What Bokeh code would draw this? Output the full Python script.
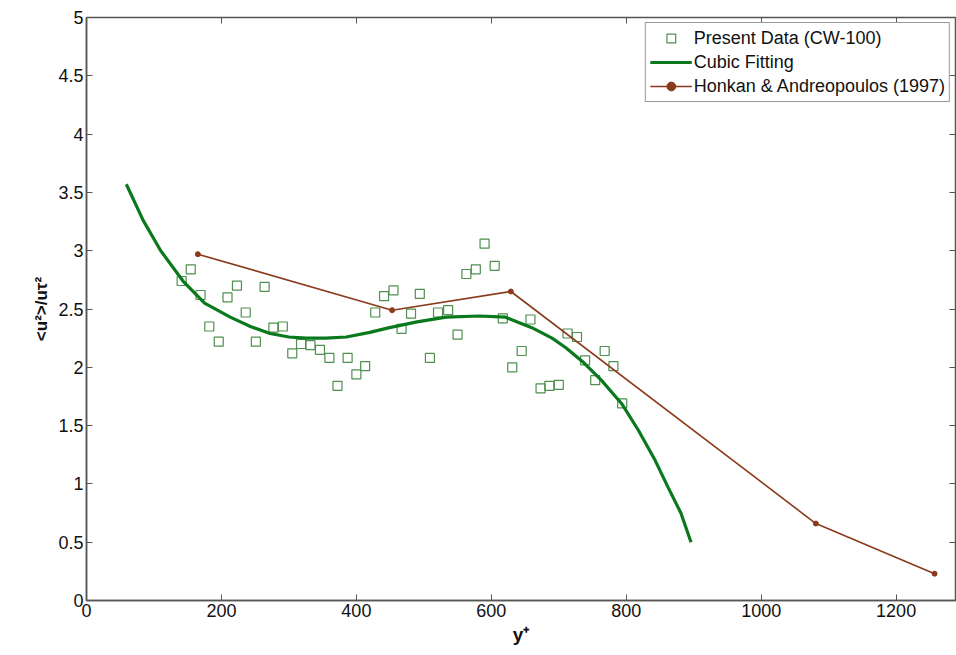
from bokeh.plotting import figure
from bokeh.models import Range1d, LinearAxis, Legend, LegendItem, FixedTicker
from bokeh.embed import file_html
from bokeh.resources import INLINE

# Present data (CW-100)
data_x = [141, 154.5, 169, 182, 196, 209, 223, 236, 251, 264, 277, 291, 305, 318, 332, 346,
          360, 372, 387, 400, 413, 428, 441, 455, 467, 481, 494, 509, 521, 536, 550, 563,
          577, 590, 605, 617, 631, 645, 658, 673, 686, 700, 713, 727, 739, 754, 768, 781, 794]
data_y = [2.74, 2.84, 2.62, 2.35, 2.22, 2.60, 2.70, 2.47, 2.22, 2.69, 2.34, 2.35, 2.12, 2.20,
          2.19, 2.15, 2.08, 1.84, 2.08, 1.94, 2.01, 2.47, 2.61, 2.66, 2.33, 2.46, 2.63, 2.08,
          2.47, 2.49, 2.28, 2.80, 2.84, 3.06, 2.87, 2.42, 2.00, 2.14, 2.41, 1.82, 1.84, 1.85,
          2.29, 2.26, 2.06, 1.89, 2.14, 2.01, 1.69]

# Cubic fitting
fit_x = [59, 84, 110, 143, 175, 213, 243, 272, 300, 326, 355, 385, 420, 449, 490, 533, 582,
         621, 660, 690, 710, 735, 763, 793, 818, 843, 862, 881, 896]
fit_y = [3.57, 3.26, 3.00, 2.74, 2.55, 2.43, 2.35, 2.29, 2.26, 2.25, 2.25, 2.26, 2.30, 2.34,
         2.39, 2.43, 2.44, 2.43, 2.34, 2.25, 2.17, 2.05, 1.89, 1.69, 1.46, 1.20, 0.97, 0.75, 0.50]

# Honkan & Andreopoulos (1997)
ha_x = [165, 453, 629, 1081, 1257]
ha_y = [2.97, 2.49, 2.65, 0.66, 0.23]

x_ticks = [0, 200, 400, 600, 800, 1000, 1200]
y_ticks = [0, 0.5, 1, 1.5, 2, 2.5, 3, 3.5, 4, 4.5, 5]

FONT = "Liberation Sans"
AX = "#555555"

p = figure(width=956, height=655, output_backend="svg", toolbar_location=None,
           x_range=Range1d(0, 1288), y_range=Range1d(0, 5),
           min_border_left=86, min_border_right=1, min_border_top=17, min_border_bottom=55,
           background_fill_color="white", border_fill_color="white")
p.outline_line_color = AX
p.outline_line_width = 1.5
p.xgrid.visible = False
p.ygrid.visible = False

sq = p.scatter(data_x, data_y, marker="square", size=9, fill_color=None,
               line_color="#4f8f4f", line_width=1.2)
fit = p.line(fit_x, fit_y, line_color="#0a781c", line_width=3.2)
ha = p.line(ha_x, ha_y, line_color="#8a3b1c", line_width=1.6)
hap = p.scatter(ha_x, ha_y, marker="circle", size=5, fill_color="#8a3b1c", line_color="#8a3b1c")

for ax in (p.xaxis[0], p.yaxis[0]):
    ax.major_tick_in = 6
    ax.major_tick_out = 0
    ax.minor_tick_line_color = None
    ax.axis_line_color = AX
    ax.axis_line_width = 1.5
    ax.major_tick_line_color = AX
    ax.major_label_text_font = FONT
    ax.major_label_text_font_size = "18px"
    ax.major_label_text_color = "#111111"
    ax.axis_label_text_font = FONT
    ax.axis_label_text_font_style = "bold"
    ax.axis_label_text_color = "#111111"

p.xaxis[0].ticker = FixedTicker(ticks=x_ticks)
p.yaxis[0].ticker = FixedTicker(ticks=y_ticks)
p.xaxis[0].axis_label = "y⁺"
p.xaxis[0].axis_label_text_font_size = "19px"
p.xaxis[0].axis_label_standoff = 4
p.xaxis[0].major_label_standoff = 3
p.yaxis[0].axis_label = "<u²>/uτ²"
p.yaxis[0].axis_label_text_font_size = "17px"
p.yaxis[0].axis_label_standoff = 4
p.yaxis[0].major_label_standoff = 3

top = LinearAxis(ticker=FixedTicker(ticks=x_ticks), major_tick_in=6, major_tick_out=0,
                 minor_tick_line_color=None, axis_line_color=AX, major_tick_line_color=AX,
                 major_label_text_color=None, major_label_text_font_size="1px",
                 major_label_standoff=0)
right = LinearAxis(ticker=FixedTicker(ticks=y_ticks), major_tick_in=6, major_tick_out=0,
                   minor_tick_line_color=None, axis_line_color=AX, major_tick_line_color=AX,
                   major_label_text_color=None, major_label_text_font_size="1px",
                   major_label_standoff=0)
p.add_layout(top, "above")
p.add_layout(right, "right")

legend = Legend(items=[
    LegendItem(label="Present Data (CW-100)", renderers=[sq]),
    LegendItem(label="Cubic Fitting", renderers=[fit]),
    LegendItem(label="Honkan & Andreopoulos (1997)", renderers=[ha, hap]),
], location="top_right")
legend.label_text_font = FONT
legend.label_text_font_size = "18px"
legend.label_text_color = "#111111"
legend.glyph_width = 42
legend.glyph_height = 22
legend.label_height = 22
legend.spacing = 2
legend.padding = 4
legend.margin = 5
legend.label_standoff = 2
legend.border_line_color = "#333333"
legend.border_line_width = 1
legend.background_fill_alpha = 1
p.add_layout(legend)

open("out.html", "w").write(file_html(p, INLINE))
